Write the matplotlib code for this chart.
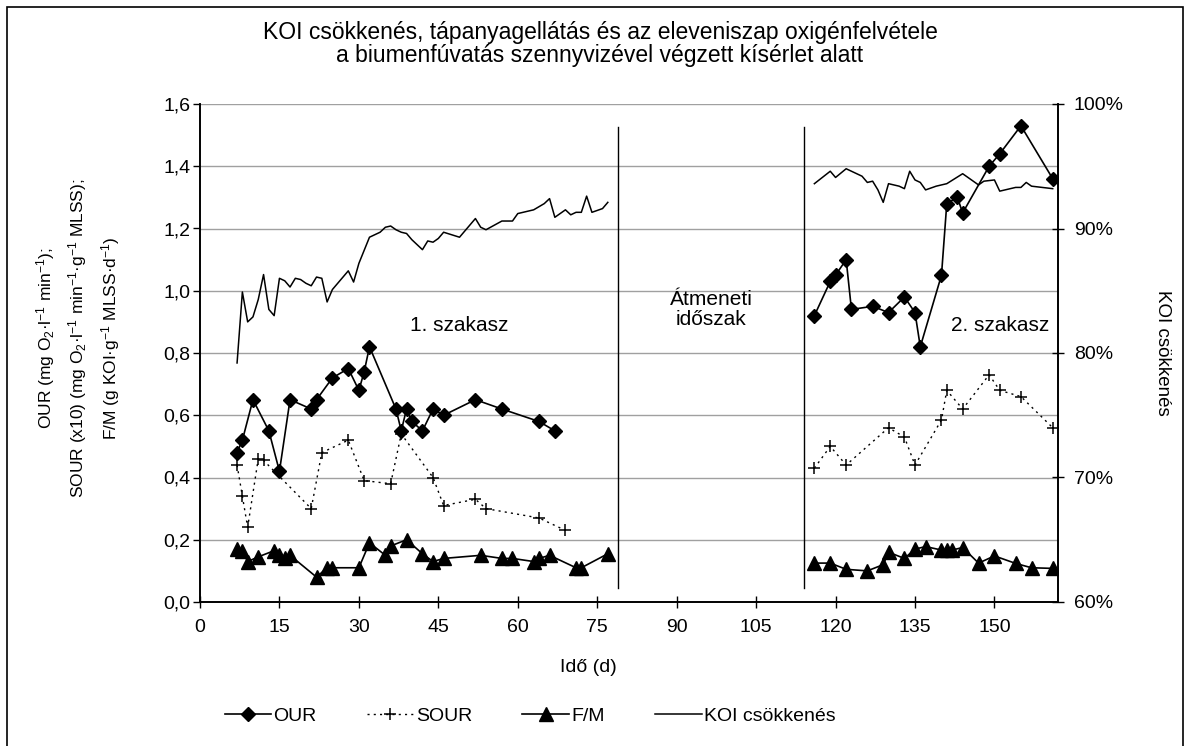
import numpy as np
import matplotlib
matplotlib.use("Agg")
import matplotlib.pyplot as plt
from matplotlib.patches import Rectangle

plt.rcParams['font.family'] = ['Liberation Sans', 'DejaVu Sans']
plt.rcParams['mathtext.default'] = 'regular'

# OUR (mg O2/l/min)
our_d1 = [7, 8, 10, 13, 15, 17, 21, 22, 25, 28, 30, 31, 32, 37, 38, 39, 40, 42, 44, 46, 52, 57, 64, 67]
our_v1 = [0.48, 0.52, 0.65, 0.55, 0.42, 0.65, 0.62, 0.65, 0.72, 0.75, 0.68, 0.74, 0.82, 0.62, 0.55, 0.62,
          0.58, 0.55, 0.62, 0.60, 0.65, 0.62, 0.58, 0.55]
our_d2 = [116, 119, 120, 122, 123, 127, 130, 133, 135, 136, 140, 141, 143, 144, 149, 151, 155, 161]
our_v2 = [0.92, 1.03, 1.05, 1.10, 0.94, 0.95, 0.93, 0.98, 0.93, 0.82, 1.05, 1.28, 1.30, 1.25, 1.40, 1.44, 1.53, 1.36]

# SOUR (x10)
sour_d1 = [7, 8, 9, 11, 12, 21, 23, 28, 31, 36, 38, 44, 46, 52, 54, 64, 69]
sour_v1 = [0.44, 0.34, 0.24, 0.46, 0.455, 0.30, 0.48, 0.52, 0.39, 0.38, 0.54, 0.40, 0.31, 0.33, 0.30, 0.27, 0.23]
sour_d2 = [116, 119, 122, 130, 133, 135, 140, 141, 144, 149, 151, 155, 161]
sour_v2 = [0.43, 0.50, 0.44, 0.56, 0.53, 0.44, 0.585, 0.68, 0.62, 0.73, 0.68, 0.66, 0.56]

# F/M
fm_d1 = [7, 8, 9, 11, 14, 15, 16, 17, 22, 24, 25, 30, 32, 35, 36, 39, 42, 44, 46, 53, 57, 59, 63, 64, 66, 71, 72, 77]
fm_v1 = [0.17, 0.165, 0.13, 0.145, 0.165, 0.15, 0.14, 0.15, 0.08, 0.11, 0.11, 0.11, 0.19, 0.15, 0.18, 0.20,
         0.155, 0.13, 0.14, 0.15, 0.14, 0.14, 0.13, 0.14, 0.15, 0.11, 0.11, 0.155]
fm_d2 = [116, 119, 122, 126, 129, 130, 133, 135, 137, 140, 141, 142, 144, 147, 150, 154, 157, 161]
fm_v2 = [0.125, 0.125, 0.105, 0.10, 0.12, 0.16, 0.14, 0.17, 0.178, 0.167, 0.167, 0.167, 0.175, 0.125, 0.148,
         0.124, 0.11, 0.108]

# KOI csokkenes (%)
koi_d1 = [7, 8, 9, 10, 11, 12, 13, 14, 15, 16, 17, 18, 19, 20, 21, 22, 23, 24, 25, 26, 28, 29, 30, 32, 34, 35,
          36, 37, 38, 39, 40, 42, 43, 44, 45, 46, 49, 52, 53, 54, 57, 59, 60, 63, 65, 66, 67, 69, 70, 71, 72,
          73, 74, 76, 77]
koi_v1 = [79.2, 84.9, 82.5, 82.9, 84.3, 86.3, 83.5, 83.0, 86.0, 85.8, 85.3, 86.0, 85.9, 85.6, 85.4, 86.1, 86.0,
          84.1, 85.1, 85.6, 86.6, 85.7, 87.2, 89.3, 89.7, 90.1, 90.2, 89.9, 89.7, 89.6, 89.1, 88.3, 89.0, 88.9,
          89.2, 89.7, 89.3, 90.8, 90.1, 89.9, 90.6, 90.6, 91.2, 91.5, 92.0, 92.4, 90.9, 91.5, 91.1, 91.3, 91.3,
          92.6, 91.3, 91.6, 92.1]
koi_d2 = [116, 119, 120, 122, 123, 125, 126, 127, 128, 129, 130, 132, 133, 134, 135, 136, 137, 139, 141, 144,
          145, 147, 148, 150, 151, 152, 154, 155, 156, 157, 159, 161]
koi_v2 = [93.6, 94.6, 94.1, 94.8, 94.6, 94.2, 93.7, 93.8, 93.1, 92.1, 93.6, 93.4, 93.2, 94.6, 93.9, 93.7, 93.1,
          93.4, 93.6, 94.4, 94.1, 93.5, 93.8, 93.9, 93.0, 93.1, 93.3, 93.3, 93.7, 93.4, 93.3, 93.2]

W, H = 1191, 746
fig = plt.figure(figsize=(W / 100, H / 100), dpi=100)
ax = fig.add_axes([200 / W, 1 - 602 / H, 858 / W, 498 / H])
ax2 = ax.twinx()

grid_c = '#a0a0a0'
for yv in np.arange(0.2, 1.61, 0.2):
    ax.axhline(yv, color=grid_c, lw=1.0, zorder=0)

lw = 1.2
our_kw = dict(color='black', lw=lw, marker='D', ms=7.5)
sour_kw = dict(color='black', lw=1.0, ls=(0, (1.5, 3)), marker='+', ms=9, mew=1.1)
fm_kw = dict(color='black', lw=lw, marker='^', ms=10)
koi_kw = dict(color='black', lw=1.1)

for d, v in [(our_d1, our_v1), (our_d2, our_v2)]:
    ax.plot(d, v, zorder=4, **our_kw)
for d, v in [(sour_d1, sour_v1), (sour_d2, sour_v2)]:
    ax.plot(d, v, zorder=4, **sour_kw)
for d, v in [(fm_d1, fm_v1), (fm_d2, fm_v2)]:
    ax.plot(d, v, zorder=4, **fm_kw)
for d, v in [(koi_d1, koi_v1), (koi_d2, koi_v2)]:
    ax2.plot(d, v, zorder=3, **koi_kw)

# phase separators
for xd in [79, 114]:
    ax.axvline(xd, ymin=0.028, ymax=0.954, color='black', lw=1.0, zorder=2)

ax.text(49, 0.887, '1. szakasz', ha='center', va='center', fontsize=15)
ax.text(96.5, 0.94, 'Átmeneti\nidőszak', ha='center', va='center', fontsize=15, linespacing=1.1)
ax.text(151, 0.887, '2. szakasz', ha='center', va='center', fontsize=15)

ax.set_xlim(0, 162)
ax.set_ylim(0, 1.6)
ax2.set_ylim(60, 100)
ax.set_xticks(np.arange(0, 151, 15))
ax.set_yticks(np.arange(0, 1.61, 0.2))
ax.set_yticklabels([f'{t:.1f}'.replace('.', ',') for t in np.arange(0, 1.61, 0.2)])
ax2.set_yticks(np.arange(60, 101, 10))
ax2.set_yticklabels([f'{t}%' for t in range(60, 101, 10)])

for a in (ax, ax2):
    a.spines['top'].set_visible(False)
    for s in a.spines.values():
        s.set_linewidth(1.2)
ax.tick_params(axis='x', direction='inout', length=9, width=1, pad=8, labelsize=14)
ax.tick_params(axis='y', direction='out', length=5, width=1, pad=2, labelsize=14)
ax2.tick_params(axis='y', direction='inout', length=9, width=1, pad=7, labelsize=14)

fig.text(600 / W, 1 - 44 / H,
         'KOI csökkenés, tápanyagellátás és az eleveniszap oxigénfelvétele\n'
         'a biumenfúvatás szennyvizével végzett kísérlet alatt',
         ha='center', va='center', fontsize=16.5, linespacing=1.05)

ylab = ('OUR (mg O$_2$·l$^{-1}$ min$^{-1}$);\n'
        'SOUR (x10) (mg O$_2$·l$^{-1}$ min$^{-1}$·g$^{-1}$ MLSS);\n'
        'F/M (g KOI·g$^{-1}$ MLSS·d$^{-1}$)')
fig.text(78 / W, 1 - 338 / H, ylab, rotation=90, ha='center', va='center', fontsize=12.5,
         linespacing=1.55, multialignment='center')
fig.text(1163 / W, 1 - 353 / H, 'KOI csökkenés', rotation=270, ha='center', va='center', fontsize=13.5)
fig.text(588 / W, 1 - 668 / H, 'Idő (d)', ha='center', va='center', fontsize=14)

handles = [
    plt.Line2D([], [], **our_kw),
    plt.Line2D([], [], **sour_kw),
    plt.Line2D([], [], **fm_kw),
    plt.Line2D([], [], **koi_kw),
]
fig.legend(handles, ['OUR', 'SOUR', 'F/M', 'KOI csökkenés'], loc='center',
           bbox_to_anchor=(530 / W, 1 - 716 / H), ncol=4, frameon=False, fontsize=14,
           handlelength=2.4, handletextpad=0.1, columnspacing=2.6)

fig.patches.append(Rectangle((7 / W, -0.05), 1176 / W, 1.05 - 7 / H, transform=fig.transFigure,
                             fill=False, ec='black', lw=1.2))

fig.savefig('out.png', dpi=100)
